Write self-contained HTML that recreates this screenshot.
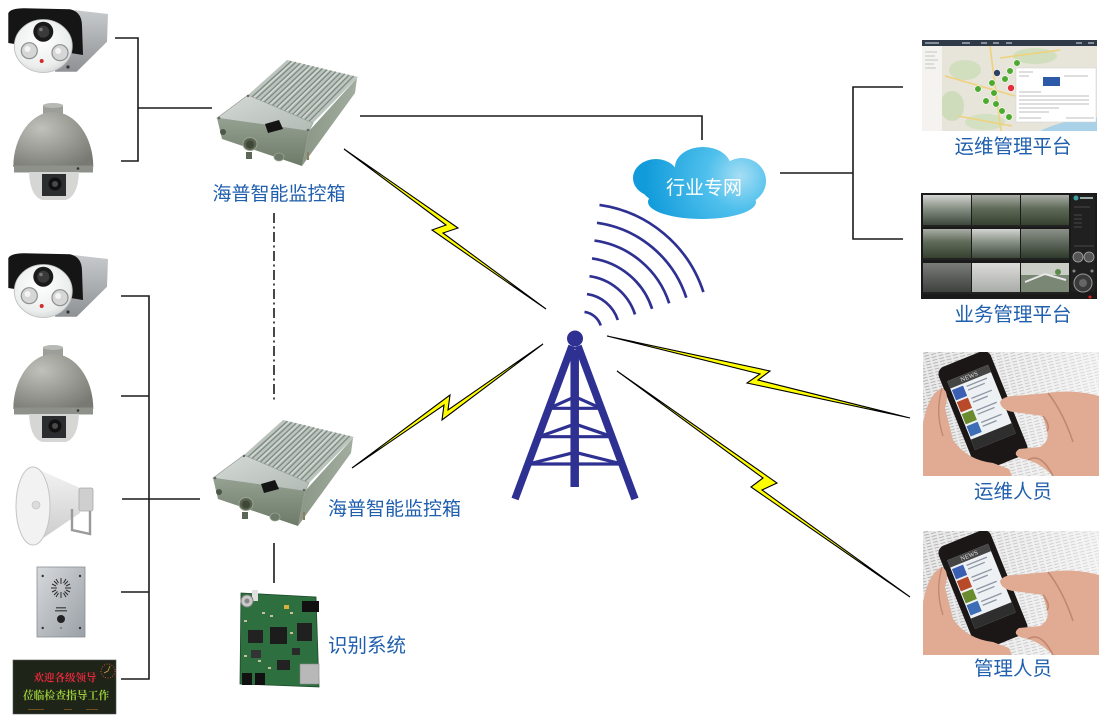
<!DOCTYPE html>
<html><head><meta charset="utf-8">
<style>
html,body{margin:0;padding:0;background:#fff;}
svg{display:block;}
.lbl{font-family:"Liberation Sans","Noto Sans CJK SC",sans-serif;fill:#1f5fae;font-size:19.5px;}
</style></head>
<body>
<svg width="1099" height="720" viewBox="0 0 1099 720" xmlns="http://www.w3.org/2000/svg">
<defs>
  <linearGradient id="silver" x1="0" y1="0" x2="0" y2="1"><stop offset="0" stop-color="#c8cbcd"/><stop offset="1" stop-color="#8e9295"/></linearGradient>
  <radialGradient id="disc" cx="0.45" cy="0.4" r="0.7"><stop offset="0" stop-color="#ffffff"/><stop offset="0.7" stop-color="#eceeee"/><stop offset="1" stop-color="#c9cccc"/></radialGradient>
  <radialGradient id="dome" cx="0.35" cy="0.3" r="0.8"><stop offset="0" stop-color="#bfc1ba"/><stop offset="1" stop-color="#777972"/></radialGradient>
  <radialGradient id="cloud" gradientUnits="userSpaceOnUse" cx="740" cy="176" r="95"><stop offset="0" stop-color="#a6def4"/><stop offset="0.35" stop-color="#4fc0ec"/><stop offset="1" stop-color="#119bdb"/></radialGradient>
  <linearGradient id="bfront" x1="0" y1="0" x2="0" y2="1"><stop offset="0" stop-color="#95a191"/><stop offset="1" stop-color="#6e7a68"/></linearGradient>
  <linearGradient id="bright" x1="0" y1="0" x2="1" y2="0"><stop offset="0" stop-color="#8a9686"/><stop offset="1" stop-color="#a2ad9f"/></linearGradient>
  <linearGradient id="lid" x1="0" y1="0" x2="1" y2="1"><stop offset="0" stop-color="#d5dad6"/><stop offset="1" stop-color="#b3bbb5"/></linearGradient>
  <linearGradient id="horn" x1="0" y1="0" x2="0" y2="1"><stop offset="0" stop-color="#f4f4f4"/><stop offset="1" stop-color="#c9c9c9"/></linearGradient>
  <linearGradient id="plate" x1="0" y1="0" x2="1" y2="1"><stop offset="0" stop-color="#d6d9dc"/><stop offset="1" stop-color="#9aa0a6"/></linearGradient>
  <linearGradient id="tA" x1="0" y1="0" x2="0" y2="1"><stop offset="0" stop-color="#d3d5d2"/><stop offset="0.4" stop-color="#8f978c"/><stop offset="1" stop-color="#3d483b"/></linearGradient>
  <linearGradient id="tB" x1="0" y1="0" x2="0" y2="1"><stop offset="0" stop-color="#a9ada6"/><stop offset="0.45" stop-color="#5f6a58"/><stop offset="1" stop-color="#36412f"/></linearGradient>
  <linearGradient id="tC" x1="0" y1="0" x2="0" y2="1"><stop offset="0" stop-color="#dcdcda"/><stop offset="1" stop-color="#a9aca8"/></linearGradient>
  <linearGradient id="tD" x1="0" y1="0" x2="0" y2="1"><stop offset="0" stop-color="#7a7c7a"/><stop offset="1" stop-color="#3f413f"/></linearGradient>
  <linearGradient id="tE" x1="0" y1="0" x2="0" y2="1"><stop offset="0" stop-color="#8c918a"/><stop offset="1" stop-color="#2e3a2b"/></linearGradient>
  <pattern id="news" width="7" height="3" patternUnits="userSpaceOnUse" patternTransform="rotate(-14)"><rect width="7" height="3" fill="#e9e9e9"/><rect x="0" y="1" width="5" height="1" fill="#b3b3b3"/></pattern>
  <linearGradient id="shine" x1="0" y1="0" x2="1" y2="0"><stop offset="0" stop-color="#fff" stop-opacity="0"/><stop offset="1" stop-color="#fff" stop-opacity="0.55"/></linearGradient>
  <clipPath id="phclip"><rect x="0" y="0" width="176" height="124"/></clipPath>

  <g id="cam">
    <path d="M66.7,9.3 L108,14 L107,41.7 L76.7,71.7 L55,71.7 Z" fill="url(#silver)"/>
    <path d="M8.3,13.3 Q10,8.5 24,8.3 L70,9.3 Q82,12 82,26 L83,55 L8.3,43 Z" fill="#151515"/>
    <circle cx="68" cy="67" r="1.6" fill="#333"/>
    <ellipse cx="43.3" cy="46" rx="29" ry="26.5" fill="url(#disc)" stroke="#b8bbbb" stroke-width="0.8"/>
    <circle cx="43.3" cy="31.7" r="10" fill="#1a1a1a"/>
    <circle cx="43.3" cy="31.7" r="6" fill="#3a3a3a"/>
    <circle cx="41" cy="29.5" r="1.8" fill="#777"/>
    <circle cx="29.3" cy="50.7" r="8" fill="#d6d6d6" stroke="#8f8f8f" stroke-width="1.2"/>
    <circle cx="27.5" cy="49" r="3" fill="#f4f4f4"/>
    <circle cx="60" cy="52.7" r="8" fill="#d6d6d6" stroke="#8f8f8f" stroke-width="1.2"/>
    <circle cx="58.2" cy="51" r="3" fill="#f4f4f4"/>
    <circle cx="41.7" cy="61" r="2" fill="#d42a2a"/>
  </g>

  <g id="domecam">
    <rect x="43" y="105" width="20" height="11" fill="#9c9e99"/>
    <ellipse cx="53" cy="105.5" rx="10" ry="2.5" fill="#b7b9b4"/>
    <path d="M13.3,167 A40,55 0 0 1 93.3,167 Z" fill="url(#dome)"/>
    <rect x="14" y="165.5" width="79" height="7" fill="#8e908a"/>
    <path d="M29,172 L79,172 Q78,196 66,200 L42,200 Q30,196 29,172 Z" fill="#d6d6d4"/>
    <rect x="42" y="174" width="24" height="22" fill="#2c2d2e"/>
    <circle cx="55" cy="184" r="6.5" fill="#111"/>
    <circle cx="55" cy="184" r="3" fill="#4a4a4a"/>
    <circle cx="78" cy="168.5" r="1.3" fill="#333"/>
  </g>

  <g id="mbox">
    <polygon points="217,118 309,131 302,166 222,139" fill="url(#bfront)"/>
    <polygon points="309,131 357,78 355,93 302,166" fill="url(#bright)"/>
    <polygon points="248,95 287,60 358,77 313,123" fill="#bcc4be"/>
    <path d="M252.1,96.8L291.4,61.1M256.1,98.5L295.9,62.1M260.2,100.3L300.3,63.2M264.3,102L304.8,64.3M268.3,103.8L309.2,65.3M272.4,105.5L313.6,66.4M276.4,107.3L318.1,67.4M280.5,109L322.5,68.5M284.6,110.8L326.9,69.6M288.6,112.5L331.4,70.6M292.7,114.3L335.8,71.7M296.8,116L340.3,72.8M300.8,117.8L344.7,73.8M304.9,119.5L349.1,74.9M308.9,121.3L353.6,75.9" stroke="#7f8a82" stroke-width="1.3"/>
    <path d="M254,97.5L293.5,61.5M262,101L302.5,63.5M270,104.5L311.5,66M278,108L320.5,68M286,111.5L329,70M294,115L338,72M302,118.5L347,74.5" stroke="#e1e6e2" stroke-width="0.8"/>
    <polygon points="217,118 248,95 313,123 309,131" fill="url(#lid)" stroke="#8f9890" stroke-width="0.6"/>
    <polygon points="265,124 279,120 283,129 268,133" fill="#141414"/>
    <circle cx="223" cy="132" r="3" fill="#4d5649"/>
    <ellipse cx="250" cy="144" rx="7" ry="6.5" fill="#59634f" stroke="#9aa593" stroke-width="1"/>
    <ellipse cx="250" cy="144.5" rx="4" ry="4" fill="#3f4838"/>
    <rect x="246" y="152" width="6" height="7" fill="#5d6757"/>
    <ellipse cx="279" cy="157" rx="5" ry="4" fill="#6e7a69" stroke="#9aa593" stroke-width="0.8"/>
    <rect x="307" y="152" width="2" height="8" fill="#8a8060"/>
    <circle cx="219" cy="118" r="1.3" fill="#666"/>
    <circle cx="308" cy="130" r="1.3" fill="#666"/>
    <circle cx="248" cy="96" r="1.2" fill="#666"/>
  </g>

  <g id="phone">
    <rect width="176" height="124" fill="url(#news)"/>
    <rect width="176" height="124" fill="url(#shine)"/>
    <g transform="translate(60,59) rotate(-22)">
      <rect x="-28" y="-56" width="56" height="112" rx="8" fill="#1b1717"/>
      <rect x="-22" y="-41" width="44" height="74" fill="#eef1f4"/>
      <rect x="-22" y="-41" width="44" height="8" fill="#454545"/>
      <text x="0" y="-35" font-family="Liberation Serif,serif" font-size="6.5" fill="#e6e6e6" text-anchor="middle">NEWS</text>
      <rect x="-21" y="-31" width="12" height="11" fill="#3b5fb3"/>
      <rect x="-21" y="-18" width="12" height="11" fill="#b84a2a"/>
      <rect x="-21" y="-5" width="12" height="11" fill="#6b8c2e"/>
      <rect x="-21" y="8" width="12" height="11" fill="#3d6eb5"/>
      <path d="M-6,-29h22M-6,-25h18M-6,-16h22M-6,-12h16M-6,-3h22M-6,1h18M-6,10h22M-6,14h15" stroke="#8d96a3" stroke-width="1.3"/>
      <rect x="-22" y="22" width="44" height="11" fill="#2e2e2e"/>
    </g>
    <path d="M77,50 Q80,44 92,44 L125,41 Q150,37 176,44 L176,124 L130,124 Q118,112 105,108 L97,106 Q89,102 96,97 L117,95 Q127,89 124,79 L120,64 L90,60 Q78,58 77,50 Z" fill="#e0ab92"/>
    <path d="M120,64 Q128,74 124,79 M125,41 Q140,60 150,90 M105,108 Q118,100 130,124" stroke="#bf8670" stroke-width="1.5" fill="none"/>
    <path d="M0,72 Q5,42 19,36 Q27,40 22,56 L30,88 Q44,108 70,111 L86,117 L89,124 L0,124 Z" fill="#e0ab92"/>
    <path d="M19,36 Q12,60 20,84" stroke="#bf8670" stroke-width="1.3" fill="none"/>
  </g>
</defs>

<rect width="1099" height="720" fill="#fff"/>

<!-- connector lines -->
<g stroke="#1a1a1a" stroke-width="1.6" fill="none">
  <path d="M115,38H138V161H121M138,108H212"/>
  <path d="M360,116H702V140"/>
  <path d="M780,173H853M903,87H853V239H903"/>
  <path d="M121,296H149V679H121M121,396H149M122,499H200M121,592H149"/>
  <path d="M274,543V583"/>
  <path d="M274,213V402" stroke-dasharray="10 3.5 2 3.5"/>
</g>

<!-- left devices -->
<use href="#cam" x="0" y="0"/>
<use href="#cam" x="0" y="245"/>
<use href="#domecam" x="0" y="0"/>
<use href="#domecam" x="0" y="242"/>

<!-- horn speaker -->
<path d="M33,467 L80,488 L80,513 L33,545 Z" fill="url(#horn)"/>
<rect x="79" y="488" width="14" height="23" rx="2" fill="#cfcfcf" stroke="#a8a8a8" stroke-width="0.8"/>
<path d="M72,509 L72,530 L90,534 L90,511" stroke="#9a9a9a" stroke-width="2.4" fill="none"/>
<ellipse cx="33" cy="506" rx="17" ry="39" fill="#f2f2f2" stroke="#c4c4c4" stroke-width="1"/>
<ellipse cx="36" cy="505" rx="4" ry="4" fill="#dcdcdc" stroke="#bbb" stroke-width="0.6"/>

<!-- intercom -->
<rect x="37" y="567" width="48" height="70" fill="url(#plate)" stroke="#8a8f94" stroke-width="0.8"/>
<g stroke="#2a2a2a" stroke-width="1">
  <path d="M61,578V584M61,592V598M51,588H57M65,588H71M54,581L57.5,584.5M64.5,591.5L68,595M68,581L64.5,584.5M57.5,591.5L54,595M56,579L58.5,583M63.5,593L66,597M66,579L63.5,583M58.5,593L56,597M52,584L56,586M66,590L70,592M70,584L66,586M56,590L52,592"/>
</g>
<rect x="56" y="607" width="10" height="1.5" fill="#555"/>
<rect x="55" y="610" width="12" height="1.5" fill="#555"/>
<circle cx="61" cy="619" r="4" fill="#222"/>
<circle cx="61" cy="628" r="0.9" fill="#666"/>
<circle cx="42.7" cy="576" r="1.2" fill="#333"/><circle cx="80" cy="576" r="1.2" fill="#333"/>
<circle cx="42.7" cy="628" r="1.2" fill="#333"/><circle cx="80" cy="628" r="1.2" fill="#333"/>

<!-- LED sign -->
<rect x="13" y="660" width="103" height="54" fill="#1e2418" stroke="#555" stroke-width="0.6"/>
<text x="65" y="681" font-family="Liberation Serif,'Noto Serif CJK SC',serif" font-weight="bold" font-size="10.5" fill="#e8283c" text-anchor="middle">欢迎各级领导</text>
<text x="66" y="699" font-family="Liberation Serif,'Noto Serif CJK SC',serif" font-weight="bold" font-size="10.8" fill="#9ccf3a" text-anchor="middle">莅临检查指导工作</text>
<circle cx="108" cy="671" r="7" fill="none" stroke="#c8523a" stroke-width="1" stroke-dasharray="1 1.6"/>
<path d="M108,671L110,666M108,671L104,673" stroke="#e0a040" stroke-width="0.8"/>
<rect x="28" y="709" width="16" height="0.8" fill="#8a5a22"/><rect x="64" y="709" width="8" height="0.8" fill="#8a5a22"/><rect x="86" y="709" width="12" height="0.8" fill="#8a5a22"/>

<!-- boxes -->
<use href="#mbox"/>
<use href="#mbox" x="-4" y="360"/>

<!-- board -->
<polygon points="241,593 316,597 319,687 240,684" fill="#2d6f3f" stroke="#1d4a2a" stroke-width="0.8"/>
<rect x="270" y="627" width="17" height="17" fill="#1c1c1c"/>
<rect x="248" y="630" width="15" height="13" fill="#222"/>
<rect x="297" y="623" width="15" height="18" fill="#202020"/>
<rect x="277" y="660" width="13" height="10" fill="#222"/>
<rect x="251" y="650" width="10" height="8" fill="#333"/>
<rect x="292" y="648" width="8" height="7" fill="#2a2a2a"/>
<rect x="302" y="601" width="17" height="11" fill="#111"/>
<rect x="300" y="664" width="19" height="20" fill="#b8b8b8" stroke="#888" stroke-width="0.6"/>
<rect x="242" y="673" width="10" height="12" fill="#111"/>
<rect x="255" y="673" width="10" height="12" fill="#111"/>
<rect x="252" y="590" width="6" height="11" fill="#e0e0e0"/>
<circle cx="247" cy="601" r="6" fill="#c9c9c9" stroke="#7f7f7f" stroke-width="1"/>
<circle cx="247" cy="601" r="2.5" fill="#888"/>
<rect x="284" y="605" width="5" height="4" fill="#d8b040"/>
<g fill="#c8c09a"><rect x="262" y="612" width="3" height="2"/><rect x="270" y="615" width="3" height="2"/><rect x="290" y="612" width="3" height="2"/><rect x="258" y="660" width="3" height="2"/><rect x="268" y="667" width="3" height="2"/><rect x="290" y="632" width="3" height="2"/><rect x="244" y="620" width="3" height="2"/><rect x="244" y="655" width="3" height="2"/></g>

<!-- lightning bolts -->
<g fill="#ffff00" stroke="#000" stroke-width="1.1" stroke-linejoin="miter">
  <polygon points="344,149 458,228 443,233 546,309 432,230 446,225"/>
  <polygon points="352,468 450,395 448,410 543,344 442,420 444,405"/>
  <polygon points="607,336 770,371 758,380 910,418 747,383 760,374"/>
  <polygon points="617,371 777,483 762,490 910,597 751,487 763,478"/>
</g>

<!-- signal arcs -->
<g fill="none" stroke="#2e3192" stroke-width="2.7">
  <path d="M584.5,311.9A20,20 0 0 1 600.7,325.5"/>
  <path d="M587,294.1A38,38 0 0 1 617.8,320"/>
  <path d="M589.5,276.2A56,56 0 0 1 635,314.4"/>
  <path d="M592,258.4A74,74 0 0 1 652.1,308.8"/>
  <path d="M594.5,240.6A92,92 0 0 1 669.2,303.3"/>
  <path d="M597,222.8A110,110 0 0 1 686.3,297.7"/>
  <path d="M599.5,204.9A128,128 0 0 1 703.4,292.1"/>
</g>

<!-- tower -->
<g stroke="#2e3192" fill="none">
  <path d="M572,346L515,499M578,346L635,499" stroke-width="7.5"/>
  <path d="M574.7,350V487" stroke-width="8.5"/>
  <path d="M549,408.3H601M539,436.7H612M528.6,464H622" stroke-width="3.2"/>
  <path d="M549,408.3L575,396.7L601,408.3M539,436.7L575,424L612,436.7M528.6,464L575,452.3L622,464" stroke-width="3.2"/>
</g>
<circle cx="575" cy="338.5" r="8" fill="#2e3192"/>

<!-- cloud -->
<g fill="url(#cloud)">
  <ellipse cx="656" cy="178" rx="23" ry="19"/>
  <ellipse cx="703" cy="167" rx="28" ry="20"/>
  <ellipse cx="742" cy="181" rx="24" ry="23"/>
  <ellipse cx="702" cy="202" rx="54" ry="17"/>
  <ellipse cx="700" cy="188" rx="58" ry="22"/>
</g>
<text x="704" y="194" font-family="Liberation Sans,'Noto Sans CJK SC',sans-serif" font-size="19" fill="#fff" text-anchor="middle">行业专网</text>

<!-- map screenshot -->
<rect x="922" y="40" width="175" height="91" fill="#e7e4da"/>
<ellipse cx="965" cy="70" rx="16" ry="10" fill="#d1dfbe"/>
<ellipse cx="952" cy="106" rx="12" ry="15" fill="#cfdcbb"/>
<ellipse cx="985" cy="122" rx="20" ry="8" fill="#d4e0c2"/>
<ellipse cx="1035" cy="56" rx="22" ry="8" fill="#d1dfbe"/>
<path d="M990,46L1001,131M945,76L1015,96M958,116L1012,126M1000,58L1060,50" stroke="#efd27c" stroke-width="1.6" fill="none"/>
<path d="M1040,131Q1062,120 1097,117V131Z" fill="#a9d1e7"/>
<rect x="922" y="46" width="20" height="85" fill="#f4f3ef"/>
<path d="M925,52h12M925,56h10M925,60h13M925,64h9M925,68h11" stroke="#b5b5b5" stroke-width="0.8"/>
<rect x="922" y="40" width="175" height="6" fill="#2e3a48"/>
<path d="M925,43h14M962,43h8M981,43h6M993,43h6M1006,43h6M1076,43h6M1088,43h6" stroke="#dfe4ea" stroke-width="1"/>
<rect x="1016" y="68" width="80" height="54" fill="#fff" stroke="#cfcfcf" stroke-width="0.5"/>
<rect x="1043" y="77" width="17" height="9" fill="#2d5aa8"/>
<path d="M1019,72h14M1019,76h10M1064,76h24M1019,92h22M1019,96h70M1019,100h70M1019,104h70M1019,108h40M1019,112h30M1019,118h22M1066,118h28" stroke="#a8a8a8" stroke-width="0.8"/>
<g fill="#4caa2e" stroke="#fff" stroke-width="0.6">
  <circle cx="1017" cy="63" r="3.3"/><circle cx="1010" cy="71" r="3.3"/><circle cx="1005" cy="79" r="3.3"/><circle cx="992" cy="83" r="3.3"/><circle cx="978" cy="89" r="3.3"/><circle cx="994" cy="93" r="3.3"/><circle cx="986" cy="101" r="3.3"/><circle cx="996" cy="104" r="3.3"/><circle cx="1002" cy="111" r="3.3"/><circle cx="1009" cy="117" r="3.3"/>
</g>
<circle cx="997" cy="73" r="3.5" fill="#2f3f63" stroke="#fff" stroke-width="0.6"/>
<circle cx="1011" cy="88" r="3.5" fill="#e0303a" stroke="#fff" stroke-width="0.6"/>

<!-- video wall screenshot -->
<rect x="921" y="193" width="176" height="106" fill="#1a1a1a"/>
<rect x="923" y="195" width="48" height="30" fill="url(#tA)"/>
<rect x="972" y="195" width="48" height="30" fill="url(#tB)"/>
<rect x="1021" y="195" width="48" height="30" fill="url(#tB)"/>
<rect x="923" y="229" width="48" height="29" fill="url(#tB)"/>
<rect x="972" y="229" width="48" height="29" fill="url(#tA)"/>
<rect x="1021" y="229" width="48" height="29" fill="url(#tE)"/>
<rect x="923" y="263" width="48" height="29" fill="url(#tD)"/>
<rect x="972" y="263" width="48" height="29" fill="url(#tC)"/>
<rect x="1021" y="263" width="48" height="29" fill="#7b8775"/>
<rect x="1021" y="263" width="48" height="12" fill="#c9cdc6"/>
<path d="M1025,282L1045,274L1066,280" stroke="#e8e8e8" stroke-width="2" fill="none"/>
<circle cx="1058" cy="272" r="3" fill="#5a8a4a"/>
<path d="M923,226h146M923,259h146M923,293h146" stroke="#2a2a2a" stroke-width="1"/>
<rect x="1071" y="195" width="24" height="97" fill="#202020"/>
<circle cx="1076" cy="198" r="2.5" fill="#3aa0a0"/>
<rect x="1080" y="197" width="13" height="2" fill="#9aa"/>
<path d="M1074,207h16M1074,215h8M1074,219h8M1074,223h8M1074,227h8M1074,246h20" stroke="#555" stroke-width="0.8"/>
<circle cx="1078" cy="257" r="5" fill="#555" stroke="#aaa" stroke-width="0.8"/>
<circle cx="1089" cy="257" r="5" fill="#555" stroke="#aaa" stroke-width="0.8"/>
<circle cx="1083" cy="283" r="9" fill="#3a3a3a" stroke="#999" stroke-width="1"/>
<circle cx="1083" cy="283" r="4" fill="#666"/>
<circle cx="1074" cy="271" r="1.5" fill="#888"/><circle cx="1092" cy="271" r="1.5" fill="#888"/>
<circle cx="1090" cy="297" r="1.5" fill="#e02020"/>

<!-- phone photos -->
<use href="#phone" x="923" y="352" clip-path="url(#phclip)"/>
<use href="#phone" x="923" y="531" clip-path="url(#phclip)"/>

<!-- labels -->
<text class="lbl" x="279" y="200" text-anchor="middle" style="font-size:19px">海普智能监控箱</text>
<text class="lbl" x="328" y="515" style="font-size:19px">海普智能监控箱</text>
<text class="lbl" x="328" y="652">识别系统</text>
<text class="lbl" x="1013" y="153" text-anchor="middle">运维管理平台</text>
<text class="lbl" x="1013" y="321" text-anchor="middle">业务管理平台</text>
<text class="lbl" x="1013" y="498" text-anchor="middle">运维人员</text>
<text class="lbl" x="1013" y="675" text-anchor="middle">管理人员</text>
</svg>
</body></html>
